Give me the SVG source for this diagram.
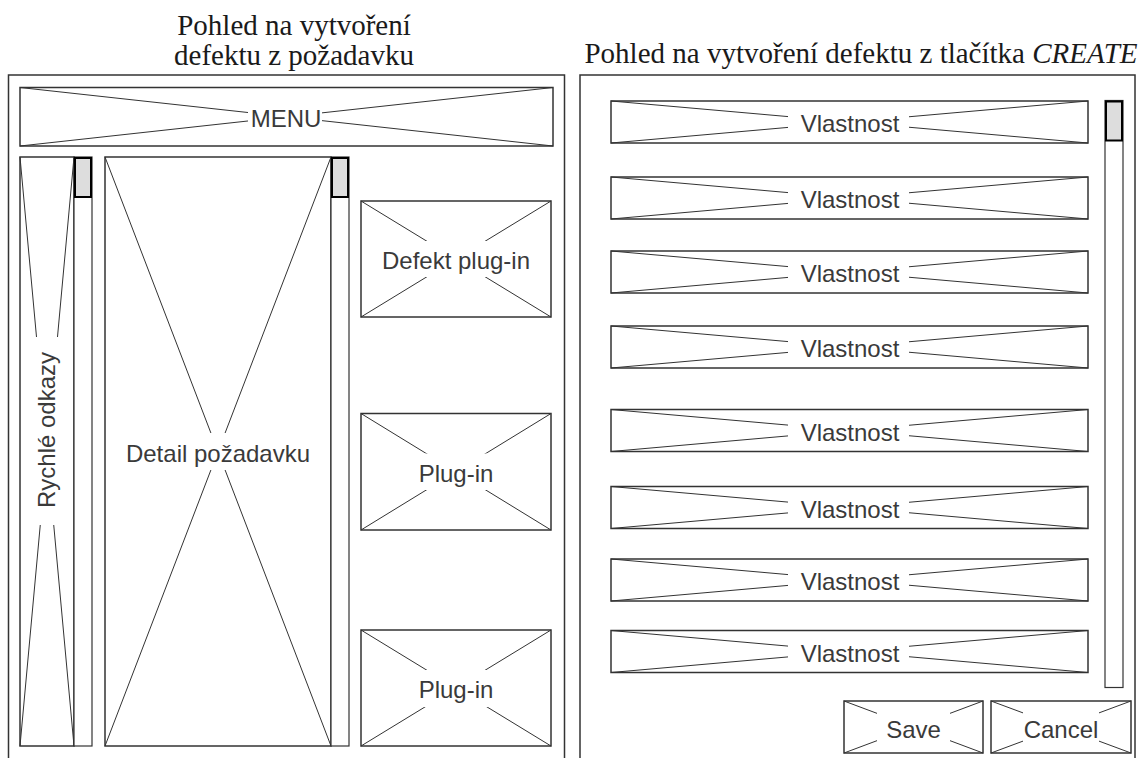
<svg xmlns="http://www.w3.org/2000/svg" width="1140" height="758" viewBox="0 0 1140 758">
  <style>
    .panel { fill: #fff; stroke: #333; stroke-width: 1.5; }
    .box { fill: #fff; stroke: #333; stroke-width: 1.5; }
    .x { fill: none; stroke: #333; stroke-width: 1; }
    .bg { fill: #fff; stroke: none; }
    .track { fill: #fff; stroke: #333; stroke-width: 1.2; }
    .thumb { fill: #ddd; stroke: #000; stroke-width: 2; }
    .lbl { font-family: "Liberation Sans", Arial, sans-serif; font-size: 24px; fill: #3a3a3a; text-anchor: middle; }
    .title { font-family: "Liberation Serif", "Times New Roman", serif; font-size: 29px; fill: #1a1a1a; text-anchor: middle; }
  </style>

  <rect width="1140" height="758" fill="#fff"/>

  <!-- Left screen: defect created from a request -->
  <g id="left-title">
    <text class="title" x="294" y="35">Pohled na vytvoření</text>
    <text class="title" x="294" y="65">defektu z požadavku</text>
  </g>
  <g id="left-panel">
    <rect class="panel" x="8.5" y="75" width="556" height="700"/>
  </g>

  <g id="menu">
    <rect class="box" x="20" y="87.5" width="533" height="58.5"/>
    <line class="x" x1="20" y1="87.5" x2="553" y2="146"/>
    <line class="x" x1="553" y1="87.5" x2="20" y2="146"/>
    <rect class="bg" x="248" y="104" width="74" height="26"/>
    <text class="lbl" x="286" y="126.5">MENU</text>
  </g>

  <g id="quick-links">
    <rect class="box" x="20" y="157" width="54" height="589"/>
    <line class="x" x1="20" y1="157" x2="74" y2="746"/>
    <line class="x" x1="74" y1="157" x2="20" y2="746"/>
    <rect class="bg" x="21" y="337" width="52" height="188"/>
    <text class="lbl" transform="translate(55 430) rotate(-90)">Rychlé odkazy</text>
    <rect class="track" x="74" y="157" width="18" height="589"/>
    <rect class="thumb" x="75" y="158" width="16" height="39"/>
  </g>

  <g id="request-detail">
    <rect class="box" x="105" y="157" width="226" height="589"/>
    <line class="x" x1="105" y1="157" x2="331" y2="746"/>
    <line class="x" x1="331" y1="157" x2="105" y2="746"/>
    <rect class="bg" x="110" y="433" width="216" height="37"/>
    <text class="lbl" x="218" y="461.5">Detail požadavku</text>
    <rect class="track" x="331" y="157" width="18" height="589"/>
    <rect class="thumb" x="332" y="158" width="16" height="39"/>
  </g>

  <g id="defect-plugin">
    <rect class="box" x="361" y="201" width="190" height="116"/>
    <line class="x" x1="361" y1="201" x2="551" y2="317"/>
    <line class="x" x1="551" y1="201" x2="361" y2="317"/>
    <rect class="bg" x="363" y="241" width="186" height="36"/>
    <text class="lbl" x="456" y="269">Defekt plug-in</text>
  </g>

  <g id="plugin-1">
    <rect class="box" x="361" y="413.5" width="190" height="116.5"/>
    <line class="x" x1="361" y1="413.5" x2="551" y2="530"/>
    <line class="x" x1="551" y1="413.5" x2="361" y2="530"/>
    <rect class="bg" x="363" y="453.5" width="186" height="36.5"/>
    <text class="lbl" x="456" y="481.5">Plug-in</text>
  </g>

  <g id="plugin-2">
    <rect class="box" x="361" y="630" width="190" height="116"/>
    <line class="x" x1="361" y1="630" x2="551" y2="746"/>
    <line class="x" x1="551" y1="630" x2="361" y2="746"/>
    <rect class="bg" x="363" y="670" width="186" height="37"/>
    <text class="lbl" x="456" y="698">Plug-in</text>
  </g>

  <!-- Right screen: defect created from the CREATE button -->
  <g id="right-title">
    <text class="title" x="861" y="63">Pohled na vytvoření defektu z tlačítka <tspan font-style="italic">CREATE</tspan></text>
  </g>
  <g id="right-panel">
    <rect class="panel" x="580" y="75" width="555" height="700"/>
  </g>

  <g id="property-1">
    <rect class="box" x="611" y="101" width="477" height="42"/>
    <line class="x" x1="611" y1="101" x2="1088" y2="143"/>
    <line class="x" x1="1088" y1="101" x2="611" y2="143"/>
    <rect class="bg" x="788" y="109" width="121" height="26"/>
    <text class="lbl" x="850" y="132">Vlastnost</text>
  </g>
  <g id="property-2">
    <rect class="box" x="611" y="177" width="477" height="42"/>
    <line class="x" x1="611" y1="177" x2="1088" y2="219"/>
    <line class="x" x1="1088" y1="177" x2="611" y2="219"/>
    <rect class="bg" x="788" y="185" width="121" height="26"/>
    <text class="lbl" x="850" y="208">Vlastnost</text>
  </g>
  <g id="property-3">
    <rect class="box" x="611" y="251" width="477" height="42"/>
    <line class="x" x1="611" y1="251" x2="1088" y2="293"/>
    <line class="x" x1="1088" y1="251" x2="611" y2="293"/>
    <rect class="bg" x="788" y="259" width="121" height="26"/>
    <text class="lbl" x="850" y="282">Vlastnost</text>
  </g>
  <g id="property-4">
    <rect class="box" x="611" y="326" width="477" height="42"/>
    <line class="x" x1="611" y1="326" x2="1088" y2="368"/>
    <line class="x" x1="1088" y1="326" x2="611" y2="368"/>
    <rect class="bg" x="788" y="334" width="121" height="26"/>
    <text class="lbl" x="850" y="357">Vlastnost</text>
  </g>
  <g id="property-5">
    <rect class="box" x="611" y="409.5" width="477" height="42"/>
    <line class="x" x1="611" y1="409.5" x2="1088" y2="451.5"/>
    <line class="x" x1="1088" y1="409.5" x2="611" y2="451.5"/>
    <rect class="bg" x="788" y="417.5" width="121" height="26"/>
    <text class="lbl" x="850" y="440.5">Vlastnost</text>
  </g>
  <g id="property-6">
    <rect class="box" x="611" y="486.5" width="477" height="42"/>
    <line class="x" x1="611" y1="486.5" x2="1088" y2="528.5"/>
    <line class="x" x1="1088" y1="486.5" x2="611" y2="528.5"/>
    <rect class="bg" x="788" y="494.5" width="121" height="26"/>
    <text class="lbl" x="850" y="517.5">Vlastnost</text>
  </g>
  <g id="property-7">
    <rect class="box" x="611" y="559" width="477" height="42"/>
    <line class="x" x1="611" y1="559" x2="1088" y2="601"/>
    <line class="x" x1="1088" y1="559" x2="611" y2="601"/>
    <rect class="bg" x="788" y="567" width="121" height="26"/>
    <text class="lbl" x="850" y="590">Vlastnost</text>
  </g>
  <g id="property-8">
    <rect class="box" x="611" y="630.5" width="477" height="42"/>
    <line class="x" x1="611" y1="630.5" x2="1088" y2="672.5"/>
    <line class="x" x1="1088" y1="630.5" x2="611" y2="672.5"/>
    <rect class="bg" x="788" y="638.5" width="121" height="26"/>
    <text class="lbl" x="850" y="661.5">Vlastnost</text>
  </g>

  <g id="form-scrollbar">
    <rect class="track" x="1105" y="100.5" width="18" height="587"/>
    <rect class="thumb" x="1106" y="101.5" width="16" height="39"/>
  </g>

  <g id="save-button">
    <rect class="box" x="844" y="701" width="139" height="52"/>
    <line class="x" x1="844" y1="701" x2="983" y2="753"/>
    <line class="x" x1="983" y1="701" x2="844" y2="753"/>
    <rect class="bg" x="877" y="706" width="73" height="42"/>
    <text class="lbl" x="913.5" y="737.5">Save</text>
  </g>

  <g id="cancel-button">
    <rect class="box" x="991" y="701" width="140" height="52"/>
    <line class="x" x1="991" y1="701" x2="1131" y2="753"/>
    <line class="x" x1="1131" y1="701" x2="991" y2="753"/>
    <rect class="bg" x="1023" y="706" width="76" height="42"/>
    <text class="lbl" x="1061" y="737.5">Cancel</text>
  </g>
</svg>
